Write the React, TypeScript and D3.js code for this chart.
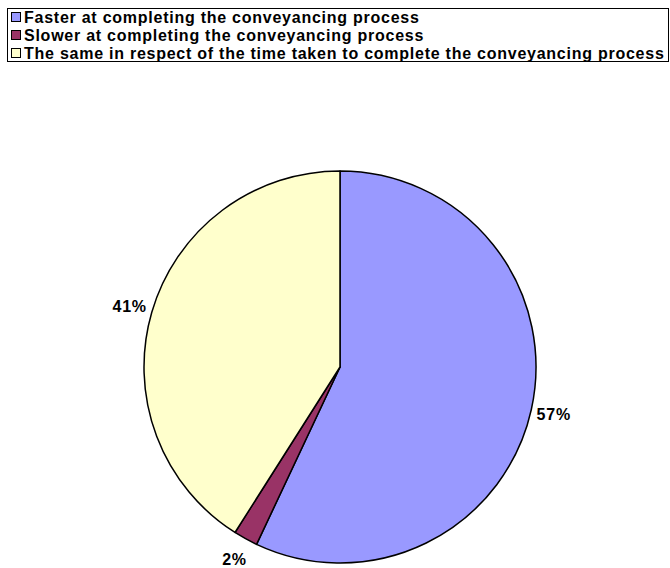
import React from "react";
import * as d3 from "d3";

const categories = [
  "Faster at completing the conveyancing process",
  "Slower at completing the conveyancing process",
  "The same in respect of the time taken to complete the conveyancing process",
];
const values = [57, 2, 41];
const labels = ["57%", "2%", "41%"];
const colors = ["#9999FF", "#993366", "#FFFFCC"];

export default function App() {
  const W = 670, H = 568;
  const cx = 340, cy = 367, r = 196;
  const pie = d3.pie<number>().sort(null).value((d) => d)(values);
  const arc = d3.arc<d3.PieArcDatum<number>>().innerRadius(0).outerRadius(r);
  const labelArc = d3.arc<d3.PieArcDatum<number>>().innerRadius(219).outerRadius(219);
  const font = "'Liberation Sans', Arial, sans-serif";
  return (
    <svg width={W} height={H} style={{ position: "absolute", left: 0, top: 0 }} fontFamily={font}>
      <rect x={0} y={0} width={W} height={H} fill="#fff" />
      <rect x={7.5} y={8.5} width={661} height={53} fill="#fff" stroke="#000" strokeWidth={1} />
      {categories.map((c, i) => (
        <g key={c} transform={`translate(11,${17 + i * 18})`}>
          <rect x={0.5} y={-4.5} width={9} height={9} fill={colors[i]} stroke="#000" strokeWidth={1} />
          <text x={13} y={0} dy="0.35em" fontSize={16} letterSpacing={0.75} fontWeight="bold" fill="#000">{c}</text>
        </g>
      ))}
      <g transform={`translate(${cx},${cy})`}>
        {pie.map((p, i) => (
          <path key={i} d={arc(p) || ""} fill={colors[i]} stroke="#000" strokeWidth={1.5} strokeLinejoin="round" />
        ))}
        {pie.map((p, i) => {
          const [x, y] = labelArc.centroid(p);
          return (
            <text key={"l" + i} x={x} y={y} dy="0.35em" textAnchor="middle" fontSize={16} letterSpacing={0.75} fontWeight="bold" fill="#000">
              {labels[i]}
            </text>
          );
        })}
      </g>
    </svg>
  );
}
